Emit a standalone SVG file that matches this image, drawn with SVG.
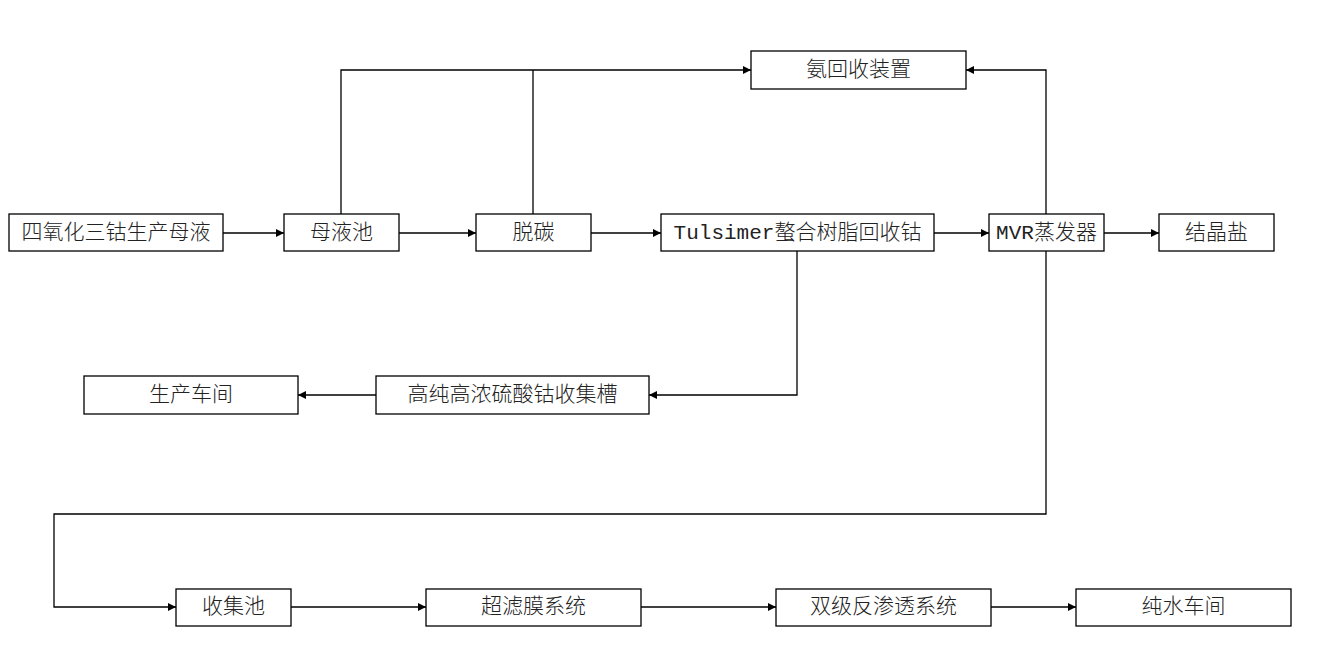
<svg xmlns="http://www.w3.org/2000/svg" width="1337" height="652" viewBox="0 0 1337 652">
<defs>
<marker id="ah" viewBox="0 0 10 10" refX="10" refY="5" markerWidth="8" markerHeight="8" markerUnits="userSpaceOnUse" orient="auto">
<path d="M0,0 L10,5 L0,10 z" fill="#000"/>
</marker>
<style>
rect{fill:#fff;stroke:#000;stroke-width:1.3}
text{font-family:"Liberation Mono","Noto Sans CJK SC",monospace;font-size:21px;font-weight:300;fill:#222;text-anchor:middle;dominant-baseline:central}
.c path{fill:none;stroke:#000;stroke-width:1.3;marker-end:url(#ah)}
.c path.n{marker-end:none}
</style>
</defs>
<rect x="0" y="0" width="1337" height="652" style="stroke:none"/>
<g class="c" id="connectors">
<path d="M223,233 H284"/>
<path d="M399,233 H476"/>
<path d="M591,233 H661"/>
<path d="M934,233 H989"/>
<path d="M1104,233 H1159"/>
<path d="M341,214 V70 H751"/>
<path class="n" d="M533,214 V70"/>
<path d="M1046,214 V70 H966"/>
<path d="M797,251 V395 H649"/>
<path d="M376,395 H298"/>
<path d="M1046,251 V514 H54 V607 H176"/>
<path d="M291,607 H426"/>
<path d="M641,607 H776"/>
<path d="M991,607 H1076"/>
</g>
<g id="n1"><rect x="9" y="214" width="214" height="37"/><text x="116" y="233">四氧化三钴生产母液</text></g>
<g id="n2"><rect x="284" y="214" width="115" height="37"/><text x="341.5" y="233">母液池</text></g>
<g id="n3"><rect x="476" y="214" width="115" height="37"/><text x="533.5" y="233">脱碳</text></g>
<g id="n4"><rect x="661" y="214" width="273" height="37"/><text x="797.5" y="233">Tulsimer螯合树脂回收钴</text></g>
<g id="n5"><rect x="989" y="214" width="115" height="37"/><text x="1046.5" y="233">MVR蒸发器</text></g>
<g id="n6"><rect x="1159" y="214" width="115" height="37"/><text x="1216.5" y="233">结晶盐</text></g>
<g id="n7"><rect x="751" y="51" width="215" height="38"/><text x="858.5" y="70">氨回收装置</text></g>
<g id="n8"><rect x="376" y="376" width="273" height="38"/><text x="512.5" y="395">高纯高浓硫酸钴收集槽</text></g>
<g id="n9"><rect x="84" y="376" width="214" height="38"/><text x="191" y="395">生产车间</text></g>
<g id="n10"><rect x="176" y="589" width="115" height="37"/><text x="233.5" y="607">收集池</text></g>
<g id="n11"><rect x="426" y="589" width="215" height="37"/><text x="533.5" y="607">超滤膜系统</text></g>
<g id="n12"><rect x="776" y="589" width="215" height="37"/><text x="883.5" y="607">双级反渗透系统</text></g>
<g id="n13"><rect x="1076" y="589" width="215" height="37"/><text x="1183.5" y="607">纯水车间</text></g>
</svg>
